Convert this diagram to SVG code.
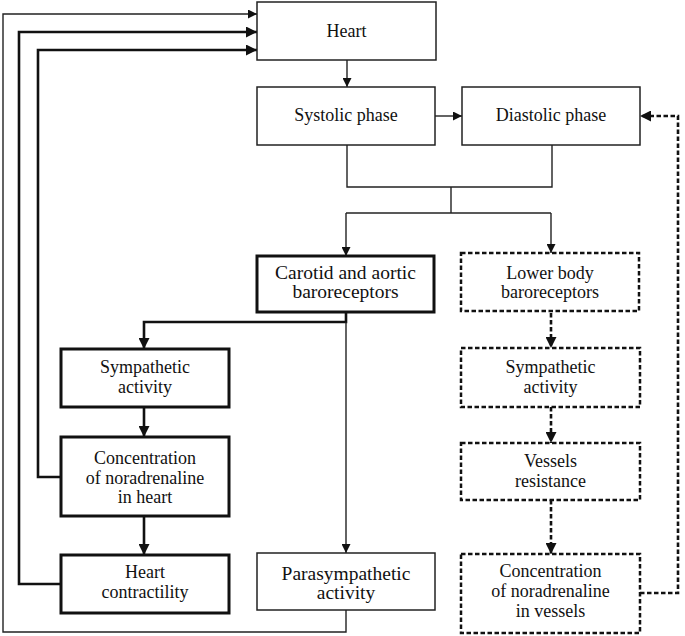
<svg xmlns="http://www.w3.org/2000/svg" width="685" height="636" viewBox="0 0 685 636">
<style>
  .thin { fill: #fff; stroke: #222; stroke-width: 1.5; }
  .thick { fill: #fff; stroke: #111; stroke-width: 3; }
  .dash { fill: #fff; stroke: #111; stroke-width: 2.5; stroke-dasharray: 4.5 2.5; }
  .c-thin { fill: none; stroke: #222; stroke-width: 1.4; }
  .c-thick { fill: none; stroke: #111; stroke-width: 2.6; }
  .c-dash { fill: none; stroke: #111; stroke-width: 2.6; stroke-dasharray: 4.5 2.5; }
  .big { font-size: 19.5px; }
</style>
<defs>
  <marker id="aThin" viewBox="0 0 10 10" refX="10" refY="5" markerWidth="9" markerHeight="9" markerUnits="userSpaceOnUse" orient="auto">
    <path d="M0,0 L10,5 L0,10 z" fill="#111"/>
  </marker>
  <marker id="aThick" viewBox="0 0 10 10" refX="10" refY="5" markerWidth="11" markerHeight="11" markerUnits="userSpaceOnUse" orient="auto">
    <path d="M0,0 L10,5 L0,10 z" fill="#111"/>
  </marker>
</defs>
<rect width="685" height="636" fill="#fff"/>

<g id="connectors">
  <path class="c-thin" d="M347,60 V87" marker-end="url(#aThin)"/>
  <path class="c-thin" d="M435,116 H462" marker-end="url(#aThin)"/>
  <path class="c-thin" d="M347,145 V187 H552 V145"/>
  <path class="c-thin" d="M451,187 V213"/>
  <path class="c-thin" d="M346,213 H551"/>
  <path class="c-thin" d="M346,213 V256" marker-end="url(#aThin)"/>
  <path class="c-thin" d="M551,213 V253" marker-end="url(#aThin)"/>
  <path class="c-thick" d="M346,313 V322 H144 V349" marker-end="url(#aThick)"/>
  <path class="c-thin" d="M346,322 V553" marker-end="url(#aThin)"/>
  <path class="c-thick" d="M144,407 V437" marker-end="url(#aThick)"/>
  <path class="c-thick" d="M144,516 V555" marker-end="url(#aThick)"/>
  <path class="c-thick" d="M61,477 H38 V50 H257" marker-end="url(#aThick)"/>
  <path class="c-thick" d="M61,584 H19 V32 H257" marker-end="url(#aThick)"/>
  <path class="c-thin" d="M346,610 V632 H3 V14 H257" marker-end="url(#aThin)"/>
  <path class="c-dash" d="M551,313 V348" marker-end="url(#aThick)"/>
  <path class="c-dash" d="M551,407 V443" marker-end="url(#aThick)"/>
  <path class="c-dash" d="M551,500 V554" marker-end="url(#aThick)"/>
  <path class="c-dash" d="M640,593 H678 V116 H640" marker-end="url(#aThick)"/>
</g>

<g font-family="Liberation Serif, Times New Roman, serif" font-size="18" fill="#111" text-anchor="middle">
<g id="heart">
  <rect class="thin" x="257" y="2" width="179" height="58"/>
  <text x="346.5" y="37">Heart</text>
</g>
<g id="systolic">
  <rect class="thin" x="257" y="87" width="178" height="58"/>
  <text x="346" y="121">Systolic phase</text>
</g>
<g id="diastolic">
  <rect class="thin" x="462" y="87" width="178" height="58"/>
  <text x="551" y="121">Diastolic phase</text>
</g>
<g id="carotid">
  <rect class="thick" x="257" y="256" width="177" height="56"/>
  <text class="big" x="345.5" y="279">Carotid and aortic</text>
  <text class="big" x="345.5" y="298">baroreceptors</text>
</g>
<g id="lowerbody">
  <rect class="dash" x="461" y="253" width="178" height="58"/>
  <text x="550" y="279">Lower body</text>
  <text x="550" y="298">baroreceptors</text>
</g>
<g id="symp-left">
  <rect class="thick" x="61" y="349" width="168" height="58"/>
  <text x="145" y="373">Sympathetic</text>
  <text x="145" y="393">activity</text>
</g>
<g id="conc-heart">
  <rect class="thick" x="61" y="437" width="168" height="79"/>
  <text x="145" y="464">Concentration</text>
  <text x="145" y="484">of noradrenaline</text>
  <text x="145" y="503">in heart</text>
</g>
<g id="contractility">
  <rect class="thick" x="61" y="555" width="168" height="58"/>
  <text x="145" y="578">Heart</text>
  <text x="145" y="598">contractility</text>
</g>
<g id="parasympathetic">
  <rect class="thin" x="257" y="553" width="178" height="57"/>
  <text class="big" x="346" y="579.5">Parasympathetic</text>
  <text class="big" x="346" y="599">activity</text>
</g>
<g id="symp-right">
  <rect class="dash" x="461" y="348" width="179" height="59"/>
  <text x="550.5" y="373">Sympathetic</text>
  <text x="550.5" y="393">activity</text>
</g>
<g id="vessels">
  <rect class="dash" x="461" y="443" width="179" height="57"/>
  <text x="550.5" y="467">Vessels</text>
  <text x="550.5" y="487">resistance</text>
</g>
<g id="conc-vessels">
  <rect class="dash" x="461" y="554" width="179" height="79"/>
  <text x="550.5" y="577">Concentration</text>
  <text x="550.5" y="597">of noradrenaline</text>
  <text x="550.5" y="617">in vessels</text>
</g>
</g>
</svg>
